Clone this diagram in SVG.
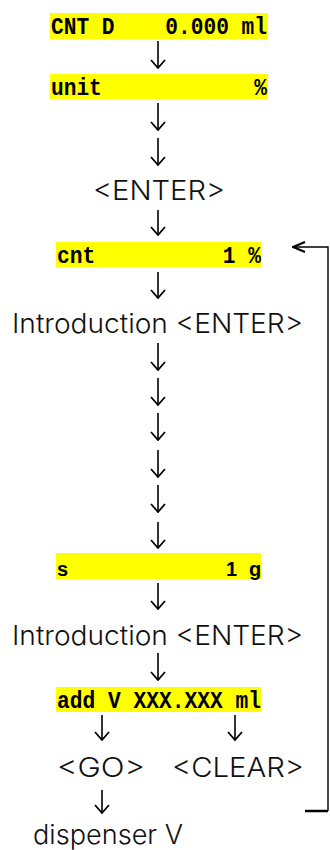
<svg xmlns="http://www.w3.org/2000/svg" width="330" height="850" viewBox="0 0 330 850">
<style>
.hl{fill:#ffff00}
.mono{font-family:"Liberation Mono","DejaVu Sans Mono",monospace;font-weight:bold;font-size:23.5px;fill:#000;white-space:pre}
.sansb{font-family:"Liberation Sans",Arial,sans-serif;font-weight:bold;font-size:20px;fill:#000}
.lt{font-family:Inter,Roboto,"Liberation Sans",sans-serif;font-weight:300;font-size:27px;fill:#111}
.arr{stroke:#000;stroke-width:1.6;fill:none;marker-end:url(#ah)}
</style>
<defs>
<marker id="ah" viewBox="0 0 10 16" refX="9" refY="8" markerWidth="10" markerHeight="16" markerUnits="userSpaceOnUse" orient="auto">
<path d="M1,1 L9,8 L1,15" fill="none" stroke="#000" stroke-width="1.8"/>
</marker>
<marker id="ah2" viewBox="0 0 14 12" refX="13" refY="6" markerWidth="14" markerHeight="12" markerUnits="userSpaceOnUse" orient="auto">
<path d="M1,1 L13,6 L1,11" fill="none" stroke="#000" stroke-width="2"/>
</marker>
</defs>
<rect width="330" height="850" fill="#fff"/>
<g id="n1"><rect class="hl" x="50" y="13" width="218" height="26"/><text class="mono" x="51" y="33.5" textLength="216" lengthAdjust="spacingAndGlyphs" xml:space="preserve">CNT D    0.000 ml</text></g>
<g id="n2"><rect class="hl" x="50" y="74" width="218" height="25"/><text class="mono" x="51" y="94.5" textLength="216" lengthAdjust="spacingAndGlyphs" xml:space="preserve">unit            %</text></g>
<g id="n3"><text class="lt" x="93" y="200" textLength="132" lengthAdjust="spacingAndGlyphs">&lt;ENTER&gt;</text></g>
<g id="n4"><rect class="hl" x="56" y="242" width="205" height="25"/><text class="mono" x="57" y="262.5" textLength="204" lengthAdjust="spacingAndGlyphs" xml:space="preserve">cnt          1 %</text></g>
<g id="n5"><text class="lt" x="12" y="333" textLength="291" lengthAdjust="spacingAndGlyphs">Introduction &lt;ENTER&gt;</text></g>
<g id="n6"><rect class="hl" x="56" y="553" width="205" height="26"/><text class="sansb" x="57" y="576">s<tspan x="226">1</tspan><tspan x="249">g</tspan></text></g>
<g id="n7"><text class="lt" x="12" y="645" textLength="291" lengthAdjust="spacingAndGlyphs">Introduction &lt;ENTER&gt;</text></g>
<g id="n8"><rect class="hl" x="56" y="687" width="205" height="25"/><text class="mono" x="57" y="707.5" textLength="204" lengthAdjust="spacingAndGlyphs" xml:space="preserve">add V XXX.XXX ml</text></g>
<g id="n9"><text class="lt" x="57" y="777" textLength="88" lengthAdjust="spacingAndGlyphs">&lt;GO&gt;</text></g>
<g id="n10"><text class="lt" x="172" y="777" textLength="132" lengthAdjust="spacingAndGlyphs">&lt;CLEAR&gt;</text></g>
<g id="n11"><text class="lt" x="33" y="844" textLength="150" lengthAdjust="spacingAndGlyphs">dispenser V</text></g>
<g id="connectors">
<path class="arr" d="M158,41 V68"/>
<path class="arr" d="M158,103 V130"/>
<path class="arr" d="M158,138 V165"/>
<path class="arr" d="M158,210 V235"/>
<path class="arr" d="M158,272 V298"/>
<path class="arr" d="M158,343 V370"/>
<path class="arr" d="M158,378 V405"/>
<path class="arr" d="M158,413 V440"/>
<path class="arr" d="M158,450 V477"/>
<path class="arr" d="M158,485 V512"/>
<path class="arr" d="M158,522 V548"/>
<path class="arr" d="M158,583 V609"/>
<path class="arr" d="M158,653 V680"/>
<path class="arr" d="M102,715 V740"/>
<path class="arr" d="M235,715 V740"/>
<path class="arr" d="M102,790 V813"/>
<path d="M305,811 H328" stroke="#000" stroke-width="2.5" fill="none"/>
<path d="M328,811 V247 H293" stroke="#000" stroke-width="1.4" fill="none" marker-end="url(#ah2)"/>
</g>
</svg>
